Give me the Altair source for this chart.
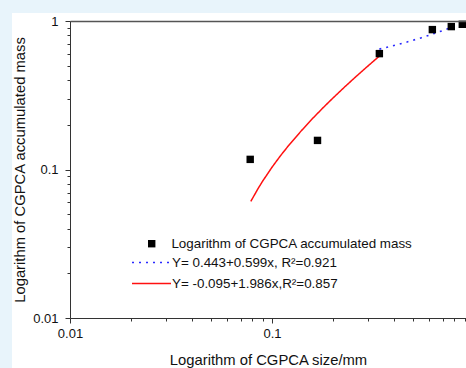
import altair as alt
import pandas as pd

# ---- data ----
size_mm = [0.078, 0.168, 0.340, 0.622, 0.772, 0.875]
mass = [0.117, 0.157, 0.603, 0.875, 0.917, 0.950]

# fitted line Y= 0.443+0.599x (blue dotted)
fit_a_x = [0.340, 0.380, 0.420, 0.460, 0.500, 0.550, 0.600, 0.650, 0.700, 0.750, 0.800, 0.850, 0.913]
fit_a_y = [0.6467, 0.6706, 0.6946, 0.7185, 0.7425, 0.7725, 0.8024, 0.8324, 0.8623, 0.8923, 0.9222, 0.9522, 0.9899]

# fitted line Y= -0.095+1.986x (red)
fit_b_x = [0.0785, 0.085, 0.090, 0.100, 0.110, 0.120, 0.140, 0.160, 0.180, 0.200, 0.230, 0.260, 0.290, 0.320, 0.340]
fit_b_y = [0.0609, 0.0738, 0.0837, 0.1036, 0.1235, 0.1433, 0.1830, 0.2228, 0.2625, 0.3022, 0.3618, 0.4214, 0.4809, 0.5405, 0.5802]

labels = [
    "Logarithm of CGPCA accumulated mass",
    "Y= 0.443+0.599x, R\u00b2=0.921",
    "Y= -0.095+1.986x,R\u00b2=0.857",
]
BLUE = "#2a2aff"
RED = "#ff1010"
DOT = [2, 5]

x_major = [0.01, 0.1]
x_minor = [0.02, 0.03, 0.04, 0.05, 0.06, 0.07, 0.08, 0.09, 0.2, 0.3, 0.4, 0.5, 0.6, 0.7, 0.8, 0.9]
y_major = [0.01, 0.1, 1]
y_minor = [0.02, 0.03, 0.04, 0.05, 0.06, 0.07, 0.08, 0.09, 0.2, 0.3, 0.4, 0.5, 0.6, 0.7, 0.8, 0.9]

FONT = "Liberation Sans"
W, H = 396, 297
AX = "#333333"
TXT = "#111111"

pts = pd.DataFrame({"x": size_mm, "y": mass, "series": labels[0]})
fa = pd.DataFrame({"x": fit_a_x, "y": fit_a_y, "series": labels[1]})
fb = pd.DataFrame({"x": fit_b_x, "y": fit_b_y, "series": labels[2]})

xscale = alt.Scale(type="log", domain=[0.01, 0.9128])
yscale = alt.Scale(type="log", domain=[0.01, 1])

common = dict(title=None, orient="none", padding=0, labelFont=FONT, labelFontSize=13.4,
              labelColor=TXT, labelLimit=400)
pt_legend = alt.Legend(
    legendX=75, legendY=216,
    symbolSize=55, symbolFillColor="#000000", symbolStrokeColor="#000000", symbolStrokeWidth=0,
    labelOffset=13, **common,
)
a_legend = alt.Legend(
    legendX=61, legendY=221,
    symbolType="stroke", symbolSize=1521, symbolStrokeWidth=1.6, symbolDash=DOT,
    labelOffset=0, **common,
)
b_legend = alt.Legend(
    legendX=61, legendY=242,
    symbolType="stroke", symbolSize=1521, symbolStrokeWidth=1.5, symbolStrokeColor=RED,
    labelOffset=0, **common,
)

panel = alt.Chart(pd.DataFrame({"a": [0]})).mark_rect(color="white").encode(
    x=alt.value(-58), x2=alt.value(W + 20), y=alt.value(-8), y2=alt.value(H + 80)
)

points = alt.Chart(pts).mark_point(shape="square", filled=True, size=55, opacity=1, color="#000000").encode(
    x=alt.X("x:Q", scale=xscale, axis=alt.Axis(
        title="Logarithm of CGPCA size/mm", values=x_major, format="~g", orient="bottom",
        tickSize=5, labelPadding=4, labelFlush=False, grid=False, domainColor=AX, tickColor=AX, zindex=1,
        labelFont=FONT, labelFontSize=13, labelColor=TXT,
        titleFont=FONT, titleFontSize=14.8, titleFontWeight="normal", titleColor=TXT,
        titlePadding=12)),
    y=alt.Y("y:Q", scale=yscale, axis=alt.Axis(
        title="Logarithm of CGPCA accumulated mass", values=y_major, format="~g", orient="left",
        tickSize=5, labelPadding=7, labelFlush=False, grid=False, domainColor=AX, tickColor=AX, zindex=1,
        labelFont=FONT, labelFontSize=13, labelColor=TXT,
        titleFont=FONT, titleFontSize=14.8, titleFontWeight="normal", titleColor=TXT,
        titlePadding=5)),
    shape=alt.Shape("series:N", scale=alt.Scale(domain=labels[:1], range=["square"]), legend=pt_legend),
)

line_a = alt.Chart(fa).mark_line(strokeWidth=1.6, strokeDash=DOT).encode(
    x=alt.X("x:Q", scale=xscale, axis=alt.Axis(
        values=x_minor, labels=False, domain=False, tickSize=3, title=None, orient="bottom",
        grid=False, tickColor=AX, zindex=1)),
    y=alt.Y("y:Q", scale=yscale, axis=alt.Axis(
        values=y_minor, labels=False, domain=False, tickSize=3, title=None, orient="left",
        grid=False, tickColor=AX, zindex=1)),
    color=alt.Color("series:N", scale=alt.Scale(domain=labels[1:2], range=[BLUE]), legend=a_legend),
)

line_b = alt.Chart(fb).mark_line(strokeWidth=1.5, color=RED).encode(
    x=alt.X("x:Q", scale=xscale, axis=alt.Axis(
        values=[], labels=False, ticks=False, domain=True, title=None, orient="top",
        grid=False, domainColor="#555555", domainWidth=1.5, zindex=1)),
    y=alt.Y("y:Q", scale=yscale, axis=None),
    strokeDash=alt.StrokeDash("series:N", scale=alt.Scale(domain=labels[2:], range=[[1, 0]]), legend=b_legend),
)

chart = alt.layer(panel, line_b, line_a, points).resolve_axis(
    x="independent", y="independent"
).properties(
    width=W, height=H,
    background="#e8f4fb",
    padding={"left": 70, "top": 21, "right": 0, "bottom": 50},
    autosize=alt.AutoSizeParams(type="none"),
).configure_view(stroke=None)

chart.save("out.html", embed_options={"renderer": "svg", "actions": False})
